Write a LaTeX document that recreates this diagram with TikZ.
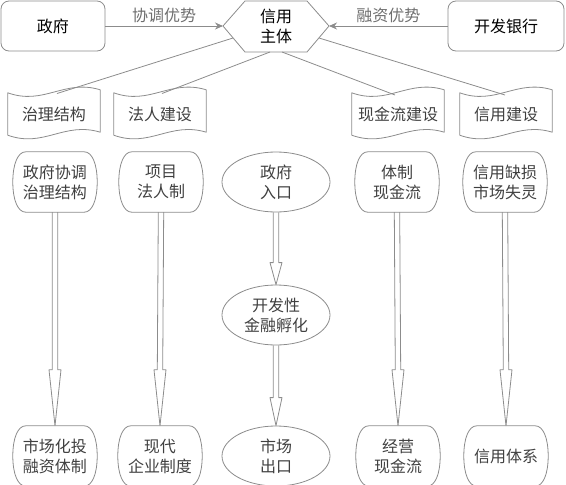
\documentclass[tikz,border=0pt]{standalone}
\usepackage{fontspec}
\setmainfont{Noto Sans CJK SC}
\usetikzlibrary{shapes.geometric,calc,arrows.meta}
\definecolor{ln}{HTML}{8C8C8C}
\definecolor{tx}{HTML}{404040}
\definecolor{lb}{HTML}{6E6E6E}
\newcommand\docoutline[1]{%
  \draw[outl] (#1.north west)
    .. controls ($(#1.north west)+(36,13)$) and ($(#1.north east)+(-36,-14)$) .. ($(#1.north east)+(0,-3)$)
    -- ($(#1.south east)+(0,-3)$)
    .. controls ($(#1.south east)+(-36,-14)$) and ($(#1.south west)+(36,13)$) .. (#1.south west) -- cycle;}
\newcommand\bulgeoutline[1]{%
  \draw[outl] ($(#1.north west)+(8,0)$) -- ($(#1.north east)+(-8,0)$)
    .. controls (#1.north east) and ($(#1.east)+(5,-18)$) .. ($(#1.east)+(5,0)$)
    .. controls ($(#1.east)+(5,18)$) and (#1.south east) .. ($(#1.south east)+(-8,0)$)
    -- ($(#1.south west)+(8,0)$)
    .. controls (#1.south west) and ($(#1.west)+(-5,18)$) .. ($(#1.west)+(-5,0)$)
    .. controls ($(#1.west)+(-5,-18)$) and (#1.north west) .. cycle;}
\newcommand\dblarrow[3]{%
  \draw[outl] ($(#1.south)+(-2.7,0)$) -- ($(#2.north)+(-2.7,-#3)$) -- ($(#2.north)+(-6,-#3)$)
    -- (#2.north) -- ($(#2.north)+(6,-#3)$) -- ($(#2.north)+(2.7,-#3)$) -- ($(#1.south)+(2.7,0)$);}
\begin{document}
\begin{tikzpicture}[x=1pt,y=-1pt,
  font=\fontsize{16}{20}\selectfont,
  outl/.style={draw=ln, line width=0.8pt, line join=round},
  topbox/.style={draw=ln, line width=0.8pt, rounded corners=8pt, minimum height=50pt, inner sep=0pt, text=black},
  plain/.style={inner sep=0pt, align=center, text=tx},
  doc/.style={plain, minimum width=92pt, minimum height=42pt},
  bulge/.style={plain, minimum width=74pt, minimum height=60pt},
  ell/.style={ellipse, draw=ln, line width=0.8pt, minimum width=108pt, minimum height=60pt, inner sep=0pt, align=center, text=tx},
  lbl/.style={text=lb, inner sep=0pt},
  arr/.style={draw=ln, line width=0.8pt, -{Stealth[length=8pt,width=7pt]}},
  thin/.style={draw=ln, line width=0.8pt}]
\useasboundingbox (0,0) rectangle (566,485);

% top row
\node[topbox, minimum width=104pt] (zf) at (53,26) {政府};
\node[topbox, minimum width=116pt] (kf) at (506,26) {开发银行};
\draw[outl] (223,26) -- (245,1) -- (307,1) -- (329,26) -- (307,52) -- (245,52) -- cycle;
\node[plain, text=black] (xy) at (276,26) {信用\\主体};
\coordinate (hL) at (223,26);
\coordinate (hR) at (329,26);
\coordinate (h1) at (233,38);
\coordinate (h2) at (270,52);
\coordinate (h3) at (282,52);
\coordinate (h4) at (319,38);
\draw[arr] (zf.east) -- node[lbl, above=3pt] (l1) {协调优势} (hL);
\draw[arr] (kf.west) -- node[lbl, above=3pt] (l2) {融资优势} (hR);

% documents
\node[doc] (d1) at (54,114) {治理结构};
\node[doc] (d2) at (160,114) {法人建设};
\node[doc] (d3) at (398,114) {现金流建设};
\node[doc] (d4) at (506,114) {信用建设};
\docoutline{d1}\docoutline{d2}\docoutline{d3}\docoutline{d4}
\coordinate (t1) at (57,93.5);
\coordinate (t2) at (162,93.5);
\coordinate (t3) at (395,95);
\coordinate (t4) at (505,95);
\draw[thin] (h1) -- (t1);
\draw[thin] (h2) -- (t2);
\draw[thin] (h3) -- (t3);
\draw[thin] (h4) -- (t4);

% middle row
\node[bulge] (m1) at (55,182) {政府协调\\治理结构};
\node[bulge] (m2) at (161,182) {项目\\法人制};
\node[ell] (m3) at (276,182) {政府\\入口};
\node[bulge] (m4) at (397,182) {体制\\现金流};
\node[bulge] (m5) at (505,182) {信用缺损\\市场失灵};
\bulgeoutline{m1}\bulgeoutline{m2}\bulgeoutline{m4}\bulgeoutline{m5}

\node[ell] (c2) at (276,315) {开发性\\金融孵化};

% bottom row
\node[bulge] (b1) at (55,456) {市场化投\\融资体制};
\node[bulge] (b2) at (160,456) {现代\\企业制度};
\node[ell] (b3) at (276,456) {市场\\出口};
\node[bulge] (b4) at (398,456) {经营\\现金流};
\node[bulge] (b5) at (506,456) {信用体系};
\bulgeoutline{b1}\bulgeoutline{b2}\bulgeoutline{b4}\bulgeoutline{b5}

% double arrows
\dblarrow{m1}{b1}{56}
\dblarrow{m2}{b2}{56}
\dblarrow{m4}{b4}{56}
\dblarrow{m5}{b5}{56}
\dblarrow{m3}{c2}{22}
\dblarrow{c2}{b3}{28}
\end{tikzpicture}
\end{document}
